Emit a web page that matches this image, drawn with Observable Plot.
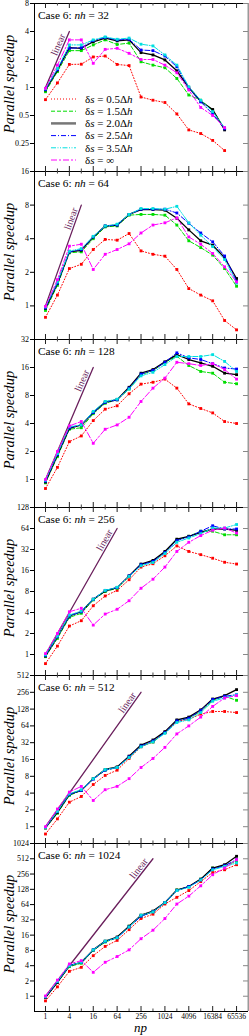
<!DOCTYPE html>
<html><head><meta charset="utf-8">
<script src="https://cdn.jsdelivr.net/npm/d3@7"></script>
<script src="https://cdn.jsdelivr.net/npm/@observablehq/plot@0.6"></script>
<style>
body{margin:0;background:#fff;}
#chart{width:249px;}
#chart svg{display:block;overflow:visible;}
</style></head><body><div id="chart"></div>
<script>
const np = [1,2,4,8,16,32,64,128,256,512,1024,2048,4096,8192,16384,32768,65536];
const xTickLabels = [1,4,16,64,256,1024,4096,16384,65536];
const nhValues = [32,64,128,256,512,1024];
const yTopValues = [8,16,32,128,512,1024];
const yBottomValues = [0.125,0.5,0.5,0.5,0.5,0.5];
const linearEnd = [4,8,16,64,256,512];
const deltaLabels = ["0.5","1.5","2.0","2.5","3.5","∞"];

// nh = 32
const nh32_d05 = [0.74,1.12,1.77,1.78,2.13,2.18,1.77,1.72,0.79,0.73,0.69,0.52,0.35,0.32,0.27,0.21];
const nh32_d15 = [0.90,1.48,2.49,2.49,2.87,3.25,2.90,3.00,1.89,1.74,1.63,1.25,0.83,0.73,0.57,0.36];
const nh32_d20 = [0.94,1.54,2.68,2.64,3.10,3.39,3.17,3.25,2.37,2.24,1.98,1.51,1.00,0.71,0.58,0.35];
const nh32_d25 = [0.95,1.56,2.64,2.68,3.20,3.45,3.25,3.30,2.53,2.49,2.18,1.67,0.98,0.70,0.52,0.36];
const nh32_d35 = [0.97,1.60,2.87,2.87,3.25,3.50,3.30,3.40,2.92,2.80,2.24,1.74,1.02,0.73,0.55,0.37];
const nh32_dinf = [0.98,1.74,3.25,3.25,1.82,2.57,2.64,2.33,2.00,2.00,1.74,1.44,0.94,0.61,0.50,0.37];
// nh = 64
const nh64_d05 = [0.79,1.25,2.16,2.36,3.20,3.94,3.88,4.45,3.11,2.90,2.79,2.12,1.43,1.25,1.11,0.74,0.61];
const nh64_d15 = [0.91,1.53,2.99,3.05,4.00,5.10,5.20,6.50,6.60,6.60,6.50,5.30,3.83,3.33,2.85,2.16,1.50];
const nh64_d20 = [0.95,1.59,3.05,3.15,4.15,5.20,5.30,6.60,7.30,7.30,7.20,6.10,4.80,3.83,3.50,2.70,1.76];
const nh64_d25 = [0.96,1.60,3.05,3.20,4.15,5.20,5.30,6.60,7.35,7.35,7.35,6.80,5.50,4.50,3.75,2.80,1.66];
const nh64_d35 = [0.98,1.64,3.10,3.26,4.20,5.20,5.40,6.60,7.45,7.45,7.35,7.80,5.55,4.30,3.40,2.60,1.60];
const nh64_dinf = [0.99,1.72,3.43,3.57,2.12,2.90,3.20,3.60,4.50,5.30,5.55,6.15,4.15,3.57,2.95,2.24,1.64];
// nh = 128
const nh128_d05 = [0.80,1.35,2.55,2.94,4.30,5.70,6.20,8.35,10.6,11.1,12.0,9.6,6.5,5.8,5.2,4.2,4.0];
const nh128_d15 = [0.92,1.76,3.47,3.60,5.10,6.60,7.20,9.40,13.4,14.8,18.2,21.1,16.8,14.5,13.9,11.1,10.7];
const nh128_d20 = [0.94,1.83,3.55,3.86,5.25,6.80,7.20,9.80,13.9,15.2,18.4,22.0,19.5,17.9,16.5,13.9,13.4];
const nh128_d25 = [0.96,1.86,3.60,3.86,5.25,6.75,7.20,9.60,13.6,14.9,18.2,23.0,20.3,19.5,17.6,15.8,15.4];
const nh128_d35 = [0.98,1.90,3.70,3.86,5.40,6.90,7.30,9.40,13.0,14.2,17.2,21.0,21.0,21.0,22.0,18.6,14.5];
const nh128_dinf = [1.00,2.00,3.77,4.20,2.45,3.47,3.86,4.67,6.90,9.60,12.3,18.2,17.6,16.8,17.6,15.2,12.0];
// nh = 256
const nh256_d05 = [0.74,1.32,2.56,3.05,5.0,6.9,8.3,11.8,17.9,20,26,36,30,27,24,21,19.8];
const nh256_d15 = [0.93,1.70,3.40,3.90,6.06,8.0,8.9,13.2,19.4,21.6,29,44,49.5,58.5,58.5,52,52];
const nh256_d20 = [0.95,1.80,3.57,4.10,6.2,8.15,9.1,13.4,19.8,22.3,30,45,49.5,56.5,63,63,60];
const nh256_d25 = [0.97,1.80,3.57,4.10,6.2,8.3,9.1,13.4,19.4,21.6,29,43,48.5,58.5,70,63,63];
const nh256_d35 = [0.99,1.84,3.68,4.20,6.2,8.3,9.2,13.2,18.7,20.8,28,40.6,46.8,54,65,65,73];
const nh256_dinf = [1.03,2.00,4.10,4.60,2.64,3.8,4.45,5.9,8.9,12.0,17.9,30,40.6,50.6,60.4,65,55];
// nh = 512
const nh512_d05 = [0.74,1.38,2.75,3.48,5.7,8.3,10.3,16.7,27,33,48.5,77,84,104,116,116,111];
const nh512_d15 = [0.95,1.74,3.63,4.47,7.26,10.3,11.5,17.9,27.9,33,48.5,80,88,116,184,217,184];
const nh512_d20 = [0.95,1.81,3.78,4.47,7.26,10.6,11.8,18.4,29,35.8,50.6,82,92,124,194,223,286];
const nh512_d25 = [0.97,1.87,3.78,4.47,7.1,10.3,11.5,17.9,27.9,34.3,48.5,78.8,88,121,190,217,232];
const nh512_d35 = [0.97,1.89,3.90,4.60,7.26,10.6,11.5,17.4,27,33,47,73.5,82,111,177,203,232];
const nh512_dinf = [1.00,2.08,4.17,5.28,2.95,4.6,5.28,7.26,11.5,16.7,26.4,46,64,92,143,202,223];
// nh = 1024
const nh1024_d05 = [0.81,1.53,3.10,3.71,6.3,9.6,12.6,20.5,34,41.4,65.6,89,121,182,275,311,391];
const nh1024_d15 = [0.94,1.87,3.83,4.46,8.0,11.7,14.2,24,37.8,46,70,124,145,203,336,374,456];
const nh1024_d20 = [0.94,1.87,4.00,4.67,8.2,12.2,14.7,24,39.6,47.6,70,124,145,203,336,391,573];
const nh1024_d25 = [0.97,1.93,4.00,4.67,8.2,12.0,14.2,23.2,37.8,46,70,121,145,196,320,374,491];
const nh1024_d35 = [0.97,1.96,4.00,4.67,8.2,12.2,14.2,23.2,39.6,46,70,121,140,196,310,362,422];
const nh1024_dinf = [1.01,2.08,4.33,5.03,2.96,4.67,6.06,8.2,13.6,20,34,65.6,94,150,248,336,491];

const panelSeries = [
  [nh32_d05, nh32_d15, nh32_d20, nh32_d25, nh32_d35, nh32_dinf],
  [nh64_d05, nh64_d15, nh64_d20, nh64_d25, nh64_d35, nh64_dinf],
  [nh128_d05, nh128_d15, nh128_d20, nh128_d25, nh128_d35, nh128_dinf],
  [nh256_d05, nh256_d15, nh256_d20, nh256_d25, nh256_d35, nh256_dinf],
  [nh512_d05, nh512_d15, nh512_d20, nh512_d25, nh512_d35, nh512_dinf],
  [nh1024_d05, nh1024_d15, nh1024_d20, nh1024_d25, nh1024_d35, nh1024_dinf]
];

const seriesStyle = [
  {stroke: "#ff0000", dash: "1,2", width: 1},
  {stroke: "#00dd00", dash: "4,2", width: 1},
  {stroke: "#000000", dash: null, width: 1.3},
  {stroke: "#0000ff", dash: "5,2,1,2", width: 1},
  {stroke: "#00e0e0", dash: "5,1.5,1,1.5,1,1.5", width: 1},
  {stroke: "#ff00ff", dash: "6,2,2,2", width: 1}
];
const purple = "#6a1f5c";

const W = 249, ML = 34, MR = 1, innerH = 168;
const innerW = W - ML - MR;
const xDomain = [Math.pow(2, -0.92), Math.pow(2, 17)];
const majorNp = np.filter((d, i) => i % 2 === 0);
const minorNp = np.filter((d, i) => i % 2 === 1);
const chart = document.getElementById("chart");

nhValues.forEach((nh, p) => {
  const first = p === 0, last = p === nhValues.length - 1;
  const mt = first ? 3 : 0;
  const mb = last ? 25 : 0;
  const yTop = yTopValues[p], yBot = yBottomValues[p];
  const yTicks = [];
  for (let v = yBot * 2; v <= yTop * 1.0001; v *= 2) yTicks.push(v);

  const marks = [];
  marks.push(Plot.ruleY([yTop], {stroke: "black"}));
  marks.push(Plot.ruleY([yBot], {stroke: "black"}));
  marks.push(Plot.ruleX([xDomain[0]], {stroke: "black"}));
  marks.push(Plot.ruleX([xDomain[1]], {stroke: "#999", strokeWidth: 2}));
  marks.push(Plot.ruleX(majorNp, {insetTop: innerH - 5, stroke: "#222"}));
  marks.push(Plot.ruleX(majorNp, {insetBottom: innerH - 5, stroke: "#222"}));
  marks.push(Plot.ruleX(minorNp, {insetTop: innerH - 2.5, stroke: "#444"}));
  marks.push(Plot.ruleX(minorNp, {insetBottom: innerH - 2.5, stroke: "#444"}));
  marks.push(Plot.ruleY(yTicks, {insetLeft: innerW - 5, stroke: "#888"}));

  const L = linearEnd[p];
  marks.push(Plot.line([{np: 1, s: 1}, {np: L, s: L}], {x: "np", y: "s", stroke: purple, strokeWidth: 1.3}));
  const pxX = innerW / Math.log2(xDomain[1] / xDomain[0]);
  const pxY = innerH / Math.log2(yTop / yBot);
  const a = Math.atan2(pxY, pxX);
  const back = 5 / Math.hypot(pxX, pxY);
  const Lb = L * Math.pow(2, -back);
  marks.push(Plot.text([{np: Lb, s: Lb}], {
    x: "np", y: "s", text: () => "linear", rotate: -a * 180 / Math.PI,
    textAnchor: "end", lineAnchor: "bottom", fill: purple, fontSize: 10,
    dx: -2 * Math.sin(a), dy: -2 * Math.cos(a)
  }));

  panelSeries[p].forEach((vals, si) => {
    const st = seriesStyle[si];
    const rows = vals.map((v, k) => ({np: np[k], s: v}));
    marks.push(Plot.line(rows, {x: "np", y: "s", stroke: st.stroke, strokeWidth: st.width, strokeDasharray: st.dash || undefined}));
    marks.push(Plot.dot(rows, {x: "np", y: "s", symbol: "square", r: 1.6, fill: st.stroke, stroke: "none"}));
  });

  const svg = Plot.plot({
    width: W,
    height: innerH + mt + mb,
    marginLeft: ML, marginRight: MR, marginTop: mt, marginBottom: mb,
    style: {background: "transparent", overflow: "visible", fontFamily: "Liberation Serif", fontSize: "8px"},
    x: {type: "log", base: 2, domain: xDomain, axis: last ? "bottom" : null,
        ticks: xTickLabels, tickFormat: d => String(d), tickSize: 0, tickPadding: 2.5, label: null},
    y: {type: "log", base: 2, domain: [yBot, yTop], ticks: yTicks, tickFormat: d => String(d),
        tickSize: 4, tickPadding: 1.5, label: null},
    marks
  });
  chart.appendChild(svg);
  const g = d3.select(svg);

  const t = g.append("text").attr("x", 38).attr("y", mt + 15.5).attr("text-anchor", "start")
    .style("font-family", "Liberation Serif").style("font-size", "11.3px").attr("fill", "black");
  t.append("tspan").text("Case 6: ");
  t.append("tspan").style("font-style", "italic").text("nh");
  t.append("tspan").text(" = " + nh);

  g.append("text").attr("transform", `translate(13.5,${mt + innerH / 2 - 3}) rotate(-90)`)
    .attr("text-anchor", "middle").style("font-family", "Liberation Serif")
    .style("font-style", "italic").style("font-size", "14.5px").attr("fill", "black")
    .text("Parallel speedup");

  if (first) {
    deltaLabels.forEach((lab, k) => {
      const st = seriesStyle[k];
      const yy = 99 + 12.2 * k;
      g.append("line").attr("x1", 51).attr("x2", 76).attr("y1", yy).attr("y2", yy)
        .attr("stroke", k === 2 ? "#777" : st.stroke).attr("stroke-width", k === 2 ? 2.5 : 1)
        .attr("stroke-dasharray", st.dash || null);
      const tx = g.append("text").attr("x", 85).attr("y", yy + 3.8).attr("text-anchor", "start")
        .style("font-family", "Liberation Serif").style("font-size", "11px").attr("fill", "black");
      tx.append("tspan").text("δ");
      tx.append("tspan").style("font-style", "italic").text("s");
      if (lab === "∞") {
        tx.append("tspan").text(" = ∞");
      } else {
        tx.append("tspan").text(" = " + lab + "Δ");
        tx.append("tspan").style("font-style", "italic").text("h");
      }
    });
  }
  if (last) {
    g.selectAll('[aria-label^="x-axis"] text').style("font-size", "7.5px");
    const x1px = ML + innerW * Math.log2(1 / xDomain[0]) / Math.log2(xDomain[1] / xDomain[0]);
    g.append("text").attr("x", x1px + 8 * pxX)
      .attr("y", mt + innerH + 21).attr("text-anchor", "middle")
      .style("font-family", "Liberation Serif").style("font-style", "italic").style("font-size", "13px")
      .attr("fill", "black").text("np");
  }
});
</script></body></html>
